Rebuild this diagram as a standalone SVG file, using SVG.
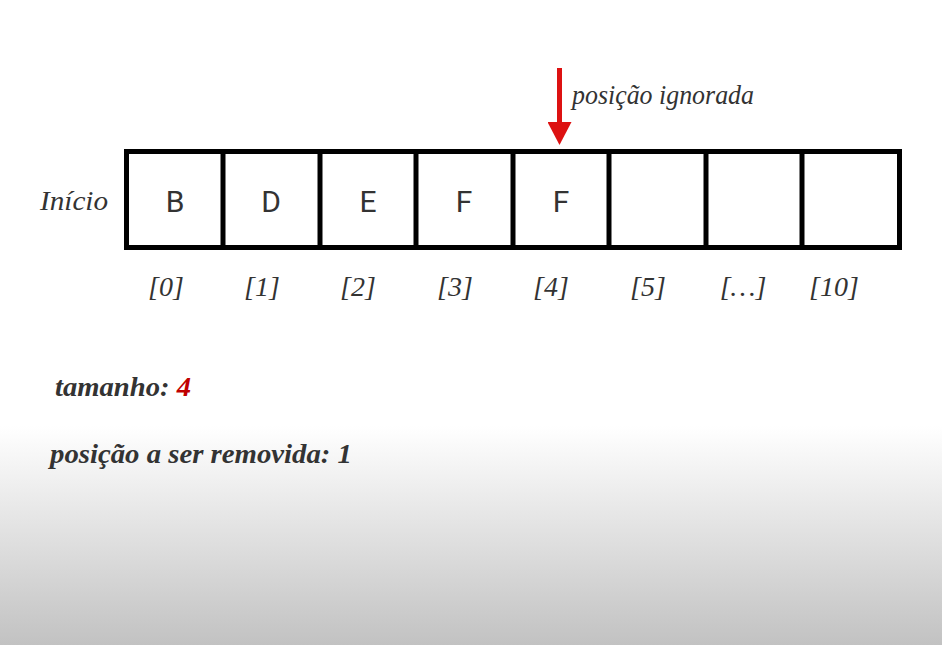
<svg xmlns="http://www.w3.org/2000/svg" width="942" height="645" viewBox="0 0 942 645">
<defs>
<linearGradient id="bg" x1="0" y1="0" x2="0" y2="1">
<stop offset="0" stop-color="#ffffff"/>
<stop offset="0.66" stop-color="#ffffff"/>
<stop offset="0.8" stop-color="#e6e6e6"/>
<stop offset="1" stop-color="#c2c2c2"/>
</linearGradient>
<marker id="ah" markerWidth="24" markerHeight="24" refX="0" refY="12" orient="auto" markerUnits="userSpaceOnUse" viewBox="0 0 24 24">
<path d="M0,0 L23,12 L0,24 Z" fill="#dd1111"/>
</marker>
<style>
.cell{fill:#fff;stroke:#000;stroke-width:5}
.val{font-family:Roboto,"Noto Sans",sans-serif;font-size:30px;fill:#333;text-anchor:middle}
.idx{font-family:"Liberation Serif",serif;font-style:italic;font-size:28px;fill:#333;text-anchor:middle}
.lbl{font-family:"Liberation Serif",serif;font-style:italic;font-size:27px;fill:#333}
.b{font-weight:bold}
</style>
</defs>
<rect width="942" height="645" fill="url(#bg)"/>
<g id="array">
<rect class="cell" x="126.5" y="151.5" width="773" height="96"/>
<line x1="223" y1="151.5" x2="223" y2="247.5" stroke="#000" stroke-width="5"/>
<line x1="320" y1="151.5" x2="320" y2="247.5" stroke="#000" stroke-width="5"/>
<line x1="416" y1="151.5" x2="416" y2="247.5" stroke="#000" stroke-width="5"/>
<line x1="513" y1="151.5" x2="513" y2="247.5" stroke="#000" stroke-width="5"/>
<line x1="609" y1="151.5" x2="609" y2="247.5" stroke="#000" stroke-width="5"/>
<line x1="706" y1="151.5" x2="706" y2="247.5" stroke="#000" stroke-width="5"/>
<line x1="802" y1="151.5" x2="802" y2="247.5" stroke="#000" stroke-width="5"/>
</g>
<g id="values">
<text class="val" x="175" y="212">B</text>
<text class="val" x="271" y="212">D</text>
<text class="val" x="368" y="212">E</text>
<text class="val" x="464" y="212">F</text>
<text class="val" x="561" y="212">F</text>
</g>
<g id="indices">
<text class="idx" x="166" y="296">[0]</text>
<text class="idx" x="262" y="296">[1]</text>
<text class="idx" x="358" y="296">[2]</text>
<text class="idx" x="455" y="296">[3]</text>
<text class="idx" x="551" y="296">[4]</text>
<text class="idx" x="648" y="296">[5]</text>
<text class="idx" x="743" y="296">[…]</text>
<text class="idx" x="834" y="296">[10]</text>
</g>
<g id="inicio"><text class="lbl" x="40" y="210" textLength="68" lengthAdjust="spacingAndGlyphs">Início</text></g>
<g id="connectors">
<line x1="559.5" y1="68" x2="559.5" y2="122" stroke="#dd1111" stroke-width="5" marker-end="url(#ah)"/>
</g>
<g id="ignorada"><text class="lbl" x="572" y="104" font-size="25" textLength="182" lengthAdjust="spacingAndGlyphs">posição ignorada</text></g>
<g id="tamanho"><text class="lbl b" x="55" y="396" textLength="136" lengthAdjust="spacingAndGlyphs">tamanho: <tspan fill="#c00000">4</tspan></text></g>
<g id="remover"><text class="lbl b" x="50" y="463" textLength="302" lengthAdjust="spacingAndGlyphs">posição a ser removida: 1</text></g>
</svg>
